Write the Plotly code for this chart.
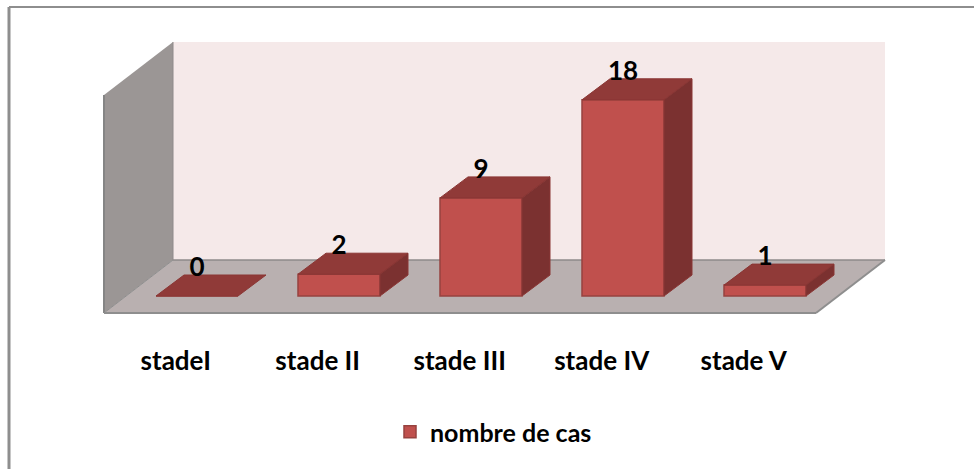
import plotly.graph_objects as go

categories = ["stadeI", "stade II", "stade III", "stade IV", "stade V"]
values = [0, 2, 9, 18, 1]
series_name = "nombre de cas"

W, H = 974, 469
PLOT_BOTTOM = 342
X0, XU = 197.0, 142.0      # pixel of category 0, pixels per category
Y0, YU = 296.0, 10.9       # pixel of value 0, pixels per unit
BAR = 82 / XU
DX, DY = 28 / XU, 21 / YU  # depth of the 3D projection, in axis units
LABEL_OFFSET = 2.45
TICK_SHIFT = -0.15

FRONT, EDGE, TOP, SIDE = "#C0504D", "#97423F", "#903A38", "#7B3130"
FONT = "Lato"


def px(x):
    return x / W


def py(y):
    return (PLOT_BOTTOM - y) / PLOT_BOTTOM


def poly(points, fill, line=None, width=0):
    d = "M" + " L".join(f"{px(x):.5f},{py(y):.5f}" for x, y in points) + " Z"
    return dict(type="path", path=d, xref="paper", yref="paper", layer="below",
                fillcolor=fill, line=dict(color=line or fill, width=width))


def seg(x1, y1, x2, y2, color="#8E8E8E", width=2):
    return dict(type="line", xref="paper", yref="paper", layer="below",
                x0=px(x1), y0=py(y1), x1=px(x2), y1=py(y2),
                line=dict(color=color, width=width))


shapes = [
    poly([(173, 42), (885, 42), (885, 260), (173, 260)], "#F5E9E9"),
    poly([(104, 95), (173, 42), (173, 260), (104, 313)], "#9B9695"),
    poly([(104, 313), (173, 260), (885, 260), (816, 313)], "#B9B0B0"),
    seg(173, 260, 885, 260, "#8E8A8A", 1.5),
    seg(173, 42, 173, 260, "#8E8A8A", 1),
    seg(104, 95, 104, 313, "#858585", 2),
    seg(104, 313, 173, 260, "#8E8E8E", 1),
    seg(104, 313, 816, 313, "#8E8E8E", 2),
    seg(816, 313, 885, 260, "#8E8E8E", 2),
    seg(9, 7, 974, 7, "#8E8E8E", 2),
    seg(9, 7, 9, 469, "#8E8E8E", 3),
]

fig = go.Figure()
xs = list(range(len(categories)))

fig.add_bar(x=xs, y=values, width=BAR, name=series_name,
            marker=dict(color=FRONT, line=dict(color=EDGE, width=1.5)),
            hoverinfo="skip")

for i, v in zip(xs, values):
    l, r = i - BAR / 2, i + BAR / 2
    fig.add_scatter(x=[l, l + DX, r + DX, r, l],
                    y=[v, v + DY, v + DY, v, v],
                    mode="lines", fill="toself", fillcolor=TOP,
                    line=dict(color="#8A3634", width=1),
                    showlegend=False, hoverinfo="skip")
    if v > 0:
        fig.add_scatter(x=[r, r + DX, r + DX, r, r],
                        y=[v, v + DY, DY, 0, v],
                        mode="lines", fill="toself", fillcolor=SIDE,
                        line=dict(color="#8A3634", width=1),
                        showlegend=False, hoverinfo="skip")

fig.add_scatter(x=xs, y=[v + LABEL_OFFSET for v in values],
                mode="text", text=[str(v) for v in values],
                textposition="middle center", cliponaxis=False,
                textfont=dict(family=FONT, size=26, color="#000000", weight="bold"),
                showlegend=False, hoverinfo="skip")

fig.update_layout(
    width=W, height=H, autosize=False,
    margin=dict(l=0, r=0, t=0, b=H - PLOT_BOTTOM, pad=0, autoexpand=False),
    paper_bgcolor="#FFFFFF", plot_bgcolor="rgba(0,0,0,0)",
    shapes=shapes,
    showlegend=True,
    legend=dict(x=px(390), y=py(432), xanchor="left", yanchor="middle",
                bgcolor="rgba(0,0,0,0)",
                font=dict(family=FONT, size=25, color="#000000", weight="bold")),
    xaxis=dict(range=[(0 - X0) / XU, (W - X0) / XU],
               tickmode="array", tickvals=[i + TICK_SHIFT for i in xs],
               ticktext=categories, showgrid=False, zeroline=False,
               showline=False, ticks="", automargin=False, ticklabelstandoff=1,
               tickfont=dict(family=FONT, size=26, color="#000000", weight="bold")),
    yaxis=dict(range=[(Y0 - PLOT_BOTTOM) / YU, Y0 / YU], visible=False,
               automargin=False),
)

fig.write_html("out.html", config={"displayModeBar": False},
               post_script="document.body.style.margin='0';document.documentElement.style.overflow='hidden';")
